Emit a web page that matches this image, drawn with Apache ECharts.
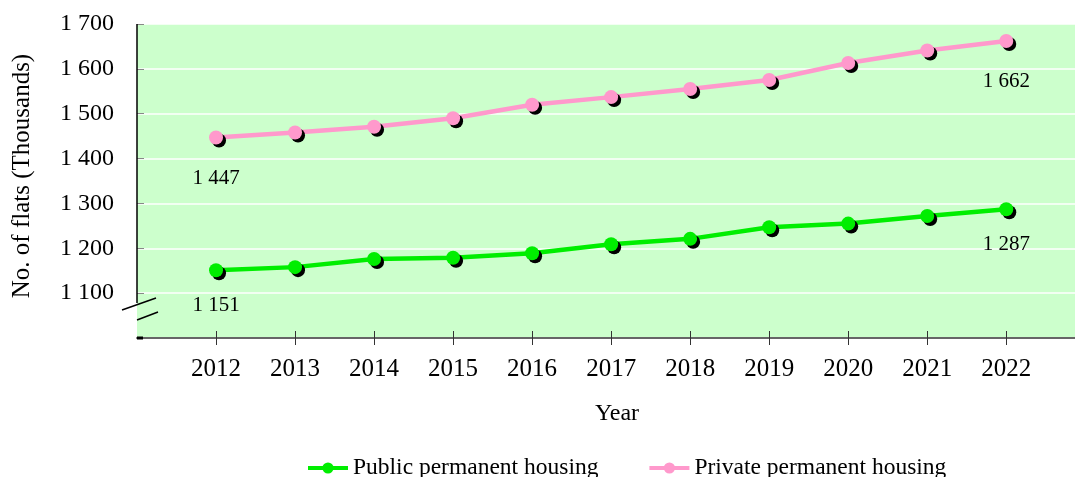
<!DOCTYPE html>
<html>
<head>
<meta charset="utf-8">
<script src="https://cdn.jsdelivr.net/npm/echarts@6/dist/echarts.min.js"></script>
<style>
  html, body { margin: 0; padding: 0; background: #fff; }
  #main { width: 1075px; height: 477px; }
</style>
</head>
<body>
<div id="main"></div>
<script>
// years on the x axis
var years = [2012, 2013, 2014, 2015, 2016, 2017, 2018, 2019, 2020, 2021, 2022];
// no. of flats, thousands
var publicHousing = [1151, 1158, 1176, 1179, 1189, 1209, 1221, 1247, 1255, 1272, 1287];
var privateHousing = [1447, 1458, 1471, 1490, 1520, 1537, 1555, 1575, 1613, 1641, 1662];
var yTicks = [1000, 1100, 1200, 1300, 1400, 1500, 1600, 1700];

var font = 'Liberation Serif, Times New Roman, serif';

function spaced(v) {
    return String(v).replace(/\B(?=(\d{3})+(?!\d))/g, ' ');
}

function pairs(vals, dist) {
    var out = [];
    for (var i = 0; i < years.length; i++) {
        var item = { value: [years[i], vals[i]] };
        // only first and last point get a label
        if (i === 0 || i === years.length - 1) {
            item.label = { show: true, position: 'bottom', distance: dist };
        }
        out.push(item);
    }
    return out;
}

var myChart = echarts.init(document.getElementById('main'));

function makeSeries(name, color, vals, dist) {
    return {
        name: name,
        type: 'line',
        data: pairs(vals, dist),
        symbol: 'circle',
        symbolSize: 14,
        lineStyle: { color: color, width: 4.5 },
        itemStyle: {
            color: color,
            shadowColor: '#000',
            shadowBlur: 0,
            shadowOffsetX: 3,
            shadowOffsetY: 3
        },
        label: {
            show: false,
            color: '#000',
            fontFamily: font,
            fontSize: 21,
            formatter: function (p) { return spaced(p.value[1]); }
        },
        emphasis: { disabled: true },
        animation: false
    };
}

var option = {
    grid: {
        left: 137, top: 24, right: 0, bottom: 139,
        show: true, backgroundColor: '#ccffcc', borderWidth: 0
    },
    legend: {
        left: 301,
        top: 451,
        itemWidth: 40,
        itemHeight: 14,
        itemGap: 49,
        lineStyle: { width: 4 },
        itemStyle: { shadowBlur: 0, shadowOffsetX: 0, shadowOffsetY: 0 },
        textStyle: { fontFamily: font, fontSize: 23.5, color: '#000' },
        data: ['Public permanent housing', 'Private permanent housing']
    },
    xAxis: [{
        type: 'value',
        min: 2011,
        max: 2022.87,
        interval: 1,
        name: 'Year',
        nameLocation: 'middle',
        nameGap: 64,
        nameTextStyle: { fontFamily: font, fontSize: 24, color: '#000', padding: [0, 0, 0, 22] },
        axisLine: { show: true, lineStyle: { color: '#666', width: 2 } },
        axisTick: { show: true, customValues: years, length: 7, lineStyle: { color: '#333' } },
        axisLabel: {
            customValues: years,
            margin: 19,
            fontFamily: font, fontSize: 25, color: '#000',
            formatter: function (v) { return String(v); }
        },
        splitLine: { show: false }
    }, {
        // inner half of the x ticks
        type: 'value',
        position: 'bottom',
        min: 2011,
        max: 2022.87,
        interval: 1,
        axisLine: { show: false },
        axisTick: { show: true, inside: true, customValues: years, length: 7, lineStyle: { color: '#333' } },
        axisLabel: { show: false },
        splitLine: { show: false }
    }],
    yAxis: {
        type: 'value',
        min: 1000,
        max: 1700,
        interval: 100,
        name: 'No. of flats (Thousands)',
        nameLocation: 'middle',
        nameGap: 102,
        nameRotate: 90,
        nameTextStyle: { fontFamily: font, fontSize: 25, color: '#000', padding: [0, 0, 0, 10] },
        axisLine: { show: false },
        axisTick: { show: true, inside: true, length: 7, customValues: yTicks.slice(1), lineStyle: { color: '#888' } },
        axisLabel: {
            margin: 23,
            fontFamily: font, fontSize: 24, color: '#000',
            formatter: function (v) { return v === 1000 ? '' : spaced(v); }
        },
        splitLine: { show: true, lineStyle: { color: '#fff', width: 1.5 } }
    },
    series: [
        makeSeries('Public permanent housing', '#00ee00', publicHousing, 18),
        makeSeries('Private permanent housing', '#ff99cc', privateHousing, 23)
    ]
};
myChart.setOption(option);

// y axis line with the break marks near the bottom
var x0 = myChart.convertToPixel({ xAxisIndex: 0 }, 2011);
var yTop = myChart.convertToPixel({ yAxisIndex: 0 }, 1700);
var yEnd = myChart.convertToPixel({ yAxisIndex: 0 }, 1078);
var yBot = myChart.convertToPixel({ yAxisIndex: 0 }, 1000);
var blk = { stroke: '#000', lineWidth: 1.5 };
myChart.setOption({
    graphic: [
        { type: 'line', shape: { x1: x0, y1: yTop, x2: x0, y2: yEnd }, style: blk, z: 10 },
        { type: 'line', shape: { x1: x0 - 15, y1: yEnd + 7, x2: x0 + 19, y2: yEnd - 5 }, style: blk, z: 10 },
        { type: 'line', shape: { x1: x0, y1: yEnd + 17, x2: x0 + 21, y2: yEnd + 9 }, style: blk, z: 10 },
        { type: 'line', shape: { x1: x0, y1: yBot, x2: x0 + 6, y2: yBot }, style: { stroke: '#000', lineWidth: 3 }, z: 10 }
    ]
});
</script>
</body>
</html>
